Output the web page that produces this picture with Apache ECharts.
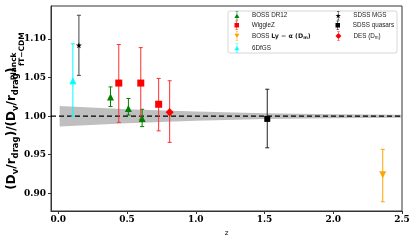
<!DOCTYPE html>
<html>
<head>
<meta charset="utf-8">
<script src="https://cdn.jsdelivr.net/npm/echarts@6/dist/echarts.min.js"></script>
<style>html,body{margin:0;padding:0;background:#fff}#c{width:415px;height:245px}</style>
</head>
<body>
<div id="c"></div>
<script>
// ---- data (z, value, lower, upper) ----
const boss12 = [[0.38, 1.025, 1.0125, 1.038], [0.51, 1.010, 1.0015, 1.023], [0.61, 0.997, 0.9865, 1.009]];
const wiggleZ = [[0.44, 1.043, 0.992, 1.093], [0.60, 1.043, 0.996, 1.089], [0.73, 1.0155, 0.981, 1.049]];
const bossLya = [[2.36, 0.924, 0.889, 0.957]];
const sixdf = [[0.106, 1.046, 1.000, 1.094]];
const sdssMGS = [[0.15, 1.092, 1.053, 1.131]];
const sdssQSO = [[1.52, 0.9965, 0.959, 1.035]];
const des = [[0.81, 1.005, 0.966, 1.046]];
// Planck band
const bandZ = [0.01, 0.5, 1.0, 1.5, 2.0, 2.5];
const bandUpper = [1.0133, 1.0090, 1.0060, 1.0037, 1.0025, 1.0020];
const bandLower = [0.9867, 0.9910, 0.9940, 0.9963, 0.9975, 0.9980];
const refLine = [[-0.053, 1.0], [2.5, 1.0]];
// ticks
const xTicks = [0, 0.5, 1.0, 1.5, 2.0, 2.5];
const yTicks = [0.90, 0.95, 1.00, 1.05, 1.10];

const SERIF = 'DejaVu Serif';
const SANS = 'DejaVu Sans';
const LSANS = 'Liberation Sans';

function errRender(color) {
  return function (params, api) {
    const x = api.value(0);
    const lo = api.coord([x, api.value(2)]);
    const hi = api.coord([x, api.value(3)]);
    const c = 2;
    const st = { stroke: color, lineWidth: 1 };
    return {
      type: 'group',
      children: [
        { type: 'line', shape: { x1: lo[0], y1: lo[1], x2: hi[0], y2: hi[1] }, style: st },
        { type: 'line', shape: { x1: lo[0] - c, y1: lo[1], x2: lo[0] + c, y2: lo[1] }, style: st },
        { type: 'line', shape: { x1: hi[0] - c, y1: hi[1], x2: hi[0] + c, y2: hi[1] }, style: st }
      ]
    };
  };
}
function errSeries(data, color) {
  return { type: 'custom', name: '_err', data: data, renderItem: errRender(color), encode: { x: 0, y: [2, 3] }, z: 3, silent: true };
}
function markSeries(name, data, color, symbol, size, rotate) {
  return { type: 'scatter', name: name, data: data.map(d => [d[0], d[1]]), symbol: symbol, symbolSize: size, symbolRotate: rotate || 0,
    itemStyle: { color: color, opacity: 1 }, z: 4, silent: true };
}
const STAR = 'path://M50,0 L61,35 L98,35 L68,57 L79,91 L50,70 L21,91 L32,57 L2,35 L39,35 Z';

const BAR = 'M4.6,0 H5.4 V14 H4.6 Z M3,0 H7 V0.7 H3 Z M3,13.3 H7 V14 H3 Z ';
const icons = {
  tri: 'path://' + BAR + 'M1.2,10.5 L5,3.5 L8.8,10.5 Z',
  sq: 'path://' + BAR + 'M1.5,3.5 H8.5 V10.5 H1.5 Z',
  tdn: 'path://' + BAR + 'M1.2,3.5 L8.8,3.5 L5,10.5 Z',
  star: 'path://' + BAR + 'M5,2.8 L6,5.9 L9.2,5.9 L6.6,7.8 L7.6,10.8 L5,9 L2.4,10.8 L3.4,7.8 L0.8,5.9 L4,5.9 Z',
  dia: 'path://' + BAR + 'M5,2.2 L9.6,7 L5,11.8 L0.4,7 Z'
};

const legendItems = [
  { name: 'BOSS DR12', icon: icons.tri, left: 234.5, cy: 15.7, label: '{f|BOSS DR12}' },
  { name: 'WiggleZ', icon: icons.sq, left: 234.5, cy: 25.3, label: '{f|WiggleZ}' },
  { name: 'BOSS Ly-α (Dm)', icon: icons.tdn, left: 234.5, cy: 36, label: '{f|BOSS }{b|Ly − α (D}{bs|m}{b|)}' },
  { name: '6DfGS', icon: icons.tri, left: 234.5, cy: 48, label: '{f|6DfGS}' },
  { name: 'SDSS MGS', icon: icons.star, left: 335.5, cy: 15.7, label: '{f|SDSS MGS}' },
  { name: 'SDSS quasars', icon: icons.sq, left: 335.5, cy: 25.3, label: '{f|SDSS quasars}' },
  { name: 'DES (Dm)', icon: icons.dia, left: 335.5, cy: 36, label: '{f|DES (D}{ts|m}{t|)}' }
];
const legendRich = {
  f: { fontFamily: LSANS, fontSize: 6.3, color: '#222', padding: [0, 0, 0, 6.5] },
  t: { fontFamily: LSANS, fontSize: 6.3, color: '#222' },
  ts: { fontFamily: LSANS, fontSize: 4.5, color: '#222', padding: [3, 0, 0, 0] },
  b: { fontFamily: SANS, fontWeight: 'bold', fontSize: 6.3, color: '#222' },
  bs: { fontFamily: SANS, fontWeight: 'bold', fontSize: 4.5, color: '#222', padding: [3, 0, 0, 0] }
};
const legends = legendItems.map(it => ({
  show: true, orient: 'vertical', left: it.left, top: it.cy - 4.5, padding: 0, itemWidth: 7, itemHeight: 9,
  data: [{ name: it.name, icon: it.icon }], selectedMode: false,
  formatter: () => it.label,
  textStyle: { rich: legendRich, fontSize: 6.3, fontFamily: LSANS }
}));

const yLabelText = '{m|(D}{s|v}{m|/r}{s|drag}{m|)/(D}{s|v}{m|/r}{s|drag}{m|)}{p|Planck}{q|fT−CDM}';
const yLabelRich = {
  m: { fontFamily: SANS, fontWeight: 'bold', fontSize: 12, lineHeight: 13, fill: '#000' },
  s: { fontFamily: SANS, fontWeight: 'bold', fontSize: 8.5, lineHeight: 8, padding: [8.8, 0, 0, 0], fill: '#000' },
  p: { fontFamily: SANS, fontWeight: 'bold', fontSize: 7.5, lineHeight: 7, padding: [5, 0, 0, 1], width: 0.5, fill: '#000' },
  q: { fontFamily: SANS, fontWeight: 'bold', fontSize: 7.5, lineHeight: 7, padding: [21, 0, 0, 0], fill: '#000' }
};

const chart = echarts.init(document.getElementById('c'), null, { renderer: 'canvas' });
chart.setOption({
  animation: false,
  backgroundColor: '#fff',
  grid: { left: 51, right: 13, top: 6, bottom: 34, show: true, borderColor: '#333', borderWidth: 1, backgroundColor: 'transparent',
    containLabel: false, outerBoundsMode: 'none' },
  legend: legends,
  graphic: [
    { type: 'rect', shape: { x: 228, y: 11, width: 169, height: 42, r: 2 }, style: { fill: 'rgba(255,255,255,0.85)', stroke: '#ccc', lineWidth: 0.8 }, z: 1 },
    { type: 'text', x: 11.5, y: 111, rotation: Math.PI / 2, z: 5,
      style: { text: yLabelText, rich: yLabelRich, align: 'center', verticalAlign: 'middle', fill: '#000' } }
  ],
  xAxis: {
    type: 'value', min: -0.053, max: 2.5,
    name: 'z', nameLocation: 'middle', nameGap: 19, nameTextStyle: { fontFamily: SANS, fontSize: 7, color: '#000' },
    axisLine: { show: true, onZero: false, lineStyle: { color: '#333', width: 1 } },
    axisTick: { show: true, length: 3, customValues: xTicks, lineStyle: { color: '#333' } },
    axisLabel: { customValues: xTicks, formatter: v => v.toFixed(1), fontFamily: SERIF, fontWeight: 'bold', fontSize: 9, color: '#000', margin: 4 },
    splitLine: { show: false }
  },
  yAxis: {
    type: 'value', min: 0.877, max: 1.143,
    axisLine: { show: true, onZero: false, lineStyle: { color: '#333', width: 1 } },
    axisTick: { show: true, length: 3, customValues: yTicks, lineStyle: { color: '#333' } },
    axisLabel: { customValues: yTicks, formatter: v => v.toFixed(2), fontFamily: SERIF, fontWeight: 'bold', fontSize: 9, color: '#000', margin: 5 },
    splitLine: { show: false }
  },
  series: [
    {
      type: 'custom', name: '_band', silent: true, z: 1,
      data: bandZ.map((z, i) => [z, bandLower[i], bandUpper[i]]),
      encode: { x: 0, y: [1, 2] },
      renderItem: function (params, api) {
        if (params.dataIndex !== 0) return null;
        const up = bandZ.map((z, i) => api.coord([z, bandUpper[i]]));
        const lo = bandZ.map((z, i) => api.coord([z, bandLower[i]])).reverse();
        return { type: 'polygon', shape: { points: up.concat(lo) }, style: { fill: 'rgba(128,128,128,0.5)' } };
      }
    },
    { type: 'line', name: '_ref', data: refLine, symbol: 'none', silent: true, z: 2,
      lineStyle: { color: '#000', width: 1.3, type: [5, 3] } },
    errSeries(sixdf, '#00ffff'),
    errSeries(sdssMGS, '#444'),
    errSeries(boss12, '#008000'),
    errSeries(wiggleZ, '#ff3030'),
    errSeries(des, '#ff3030'),
    errSeries(sdssQSO, '#222'),
    errSeries(bossLya, '#ffa500'),
    markSeries('6DfGS', sixdf, '#00ffff', 'triangle', [7, 7]),
    markSeries('SDSS MGS', sdssMGS, '#000', STAR, [6, 6]),
    markSeries('BOSS DR12', boss12, '#008000', 'triangle', [7, 7]),
    markSeries('WiggleZ', wiggleZ, '#ff0000', 'rect', [7, 7]),
    markSeries('DES (Dm)', des, '#ff0000', 'diamond', [8, 8.5]),
    markSeries('SDSS quasars', sdssQSO, '#000', 'rect', [6, 6]),
    markSeries('BOSS Ly-α (Dm)', bossLya, '#ffa500', 'triangle', [7, 7], 180)
  ]
});
</script>
</body>
</html>
